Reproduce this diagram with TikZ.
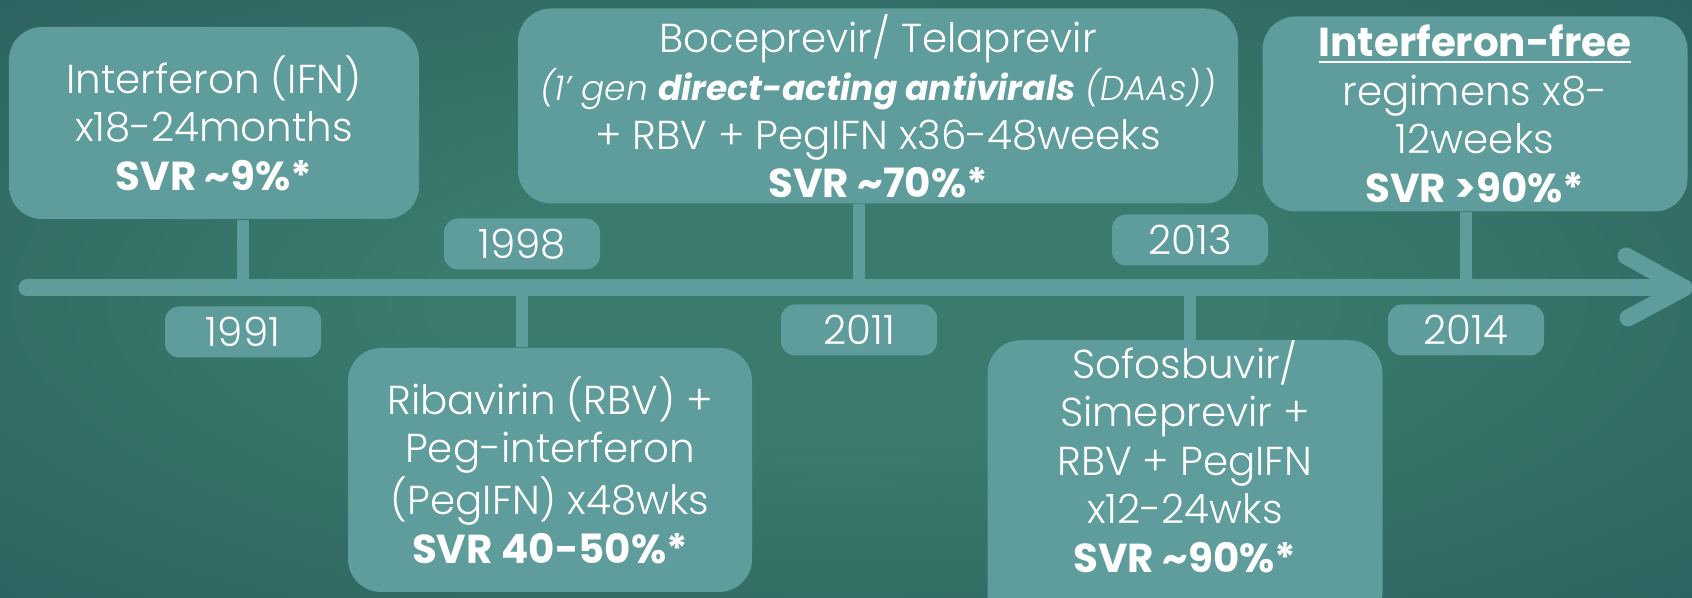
\documentclass[tikz,border=0pt]{standalone}
\usepackage{fontspec}
\setmainfont{Poppins}[UprightFont=* Light,ItalicFont=* Light Italic,
  BoldFont=* Bold,BoldItalicFont=* Bold Italic]
\usepackage{tikz}
\definecolor{BgDark}{HTML}{1B4652}
\definecolor{BgGlow}{HTML}{3B7A6C}
\definecolor{BoxTeal}{HTML}{5F9C9C}
\pgfdeclareradialshading{bgshade}{\pgfpoint{0bp}{0bp}}{%
  color(0bp)=(BgGlow); color(12bp)=(BgGlow); color(66bp)=(BgDark)}

\begin{document}
\begin{tikzpicture}[font=\fontsize{11.5}{13.8}\selectfont,
  box/.style={fill=BoxTeal,rounded corners=0.33cm,text=white,align=center,inner sep=0pt},
  yearbox/.style={fill=BoxTeal,rounded corners=0.14cm,text=white,
    minimum width=1.56cm,minimum height=0.51cm,inner sep=0pt},
  stem/.style={BoxTeal,line width=0.12cm},
  axis/.style={BoxTeal,line width=0.17cm,line cap=round,line join=round}]
  \useasboundingbox (0,0) rectangle (16.92,5.98);
  \clip (0,0) rectangle (16.92,5.98);
  \shade[shading=bgshade] (0,0) rectangle (16.92,5.98);
  % treatment boxes
  \node[box,minimum width=4.10cm,minimum height=1.92cm] (ifn) at (2.14,4.75)
    {Interferon (IFN)\\x18-24months\\\textbf{SVR \textasciitilde9\%*}};
  \node[box,minimum width=7.20cm,minimum height=1.95cm] (boc) at (8.78,4.92)
    {Boceprevir/ Telaprevir\\
     {\fontsize{9.8}{13.8}\selectfont\itshape (1' gen \textbf{direct-acting antivirals} (DAAs))}\\
     + RBV + PegIFN x36-48weeks\\\textbf{SVR \textasciitilde70\%*}};
  \node[box,minimum width=4.25cm,minimum height=1.95cm] (free) at (14.75,4.84)
    {\underline{\textbf{Interferon-free}}\\regimens x8-\\12weeks\\\textbf{SVR >90\%*}};
  \node[box,minimum width=4.04cm,minimum height=2.44cm] (rbv) at (5.50,1.28)
    {Ribavirin (RBV) +\\Peg-interferon\\(PegIFN) x48wks\\\textbf{SVR 40-50\%*}};
  \node[box,minimum width=3.95cm,minimum height=2.70cm] (sof) at (11.85,1.15)
    {Sofosbuvir/\\Simeprevir +\\RBV + PegIFN\\x12-24wks\\\textbf{SVR \textasciitilde90\%*}\\[0.05cm]};
  % years
  \foreach \yr/\x/\y in {1991/2.43/2.66,1998/5.22/3.54,2011/8.59/2.68,
      2013/11.90/3.58,2014/14.66/2.68}
    \node[yearbox] (y\yr) at (\x,\y) {\yr};
  % time line
  \coordinate (start) at (0.27,3.10);
  \coordinate (tip) at (16.84,3.10);
  \draw[axis] (start) -- (tip);
  \draw[axis] (tip) ++(-0.58,0.32) -- (tip) -- ++(-0.56,-0.30);
  \draw[stem] (y1991 |- ifn.south) -- (y1991 |- start);
  \draw[stem] (y1998 |- start) -- (y1998 |- rbv.north);
  \draw[stem] (y2011 |- boc.south) -- (y2011 |- start);
  \draw[stem] (y2013 |- start) -- (y2013 |- sof.north);
  \draw[stem] (y2014 |- free.south) -- (y2014 |- start);
\end{tikzpicture}
\end{document}
